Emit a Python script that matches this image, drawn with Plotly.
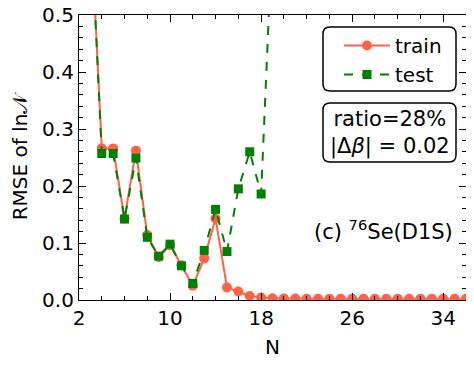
import plotly.graph_objects as go

N_train = list(range(3, 37))
train = [0.68, 0.266, 0.266, 0.143, 0.262, 0.114, 0.075, 0.096, 0.061, 0.025,
         0.073, 0.143, 0.022, 0.015, 0.007, 0.0045, 0.003, 0.0025, 0.0025, 0.002,
         0.002, 0.002, 0.002, 0.002, 0.002, 0.002, 0.002, 0.002, 0.002, 0.002,
         0.002, 0.002, 0.002, 0.002]
N_test = list(range(3, 20))
test = [0.68, 0.257, 0.257, 0.142, 0.249, 0.110, 0.077, 0.098, 0.060, 0.029,
        0.087, 0.159, 0.085, 0.195, 0.260, 0.186, 0.65]

x_ticks = [2, 10, 18, 26, 34]
y_ticks = [0.0, 0.1, 0.2, 0.3, 0.4, 0.5]

RED = "#FF6347"
GREEN = "#008000"
FONT = "DejaVu Sans"

fig = go.Figure()
fig.add_trace(go.Scatter(x=N_train, y=train, name="train", mode="lines+markers",
                         line=dict(color=RED, width=2),
                         marker=dict(symbol="circle", size=10, color=RED)))
fig.add_trace(go.Scatter(x=N_test, y=test, name="test", mode="lines+markers",
                         line=dict(color=GREEN, width=2, dash="dash"),
                         marker=dict(symbol="square", size=9, color=GREEN)))

axis_common = dict(showline=True, linecolor="black", linewidth=1.2, mirror="ticks",
                   ticks="inside", ticklen=7, tickwidth=1.2, tickcolor="black",
                   showgrid=False, zeroline=False, automargin=False,
                   ticklabeloverflow="allow",
                   tickfont=dict(family=FONT, size=20, color="black"))

fig.update_xaxes(range=[2, 36], tickvals=x_ticks, ticktext=[str(v) for v in x_ticks],
                 minor=dict(dtick=2, tick0=0, ticks="inside", ticklen=4, tickwidth=1, tickcolor="black"),
                 title=dict(text="N", font=dict(family=FONT, size=20, color="black"), standoff=10),
                 **axis_common)
fig.update_yaxes(range=[0, 0.5], tickvals=y_ticks, ticktext=[f"{v:.1f}" for v in y_ticks],
                 minor=dict(dtick=0.02, tick0=0, ticks="inside", ticklen=4, tickwidth=1, tickcolor="black"),
                 title=dict(text="RMSE of ln𝒩", font=dict(family=FONT, size=20, color="black"), standoff=14),
                 **axis_common)

def rounded_rect(x0, y0, x1, y1, rx, ry):
    return (f"M {x0+rx},{y0} L {x1-rx},{y0} Q {x1},{y0} {x1},{y0+ry} "
            f"L {x1},{y1-ry} Q {x1},{y1} {x1-rx},{y1} L {x0+rx},{y1} "
            f"Q {x0},{y1} {x0},{y1-ry} L {x0},{y0+ry} Q {x0},{y0} {x0+rx},{y0} Z")

# page has an 8px body margin: figure occupies window x 8..474, y 8..365
OFF = 8
W, H, L, T = 387.0, 285.0, 79.0, 15.0
def px(x, y):
    return (x - L) / W, 1 - (y - T) / H

lx0, ly0 = px(323, 91)
lx1, ly1 = px(456, 27)
bx0, by0 = px(323, 162)
bx1, by1 = px(456, 103)
rx, ry = 7 / W, 7 / H
fig.add_shape(type="path", xref="paper", yref="paper",
              path=rounded_rect(lx0, ly0, lx1, ly1, rx, ry),
              line=dict(color="black", width=1.5), fillcolor="rgba(255,255,255,0)", layer="above")
fig.add_shape(type="path", xref="paper", yref="paper",
              path=rounded_rect(bx0, by0, bx1, by1, rx, ry),
              line=dict(color="black", width=1.5), fillcolor="rgba(255,255,255,0)", layer="above")

fig.add_annotation(xref="paper", yref="paper", x=(bx0 + bx1) / 2, y=(by0 + by1) / 2,
                   xanchor="center", yanchor="middle",
                   text="ratio=28%<br>|Δ<i>β</i>| = 0.02", showarrow=False,
                   font=dict(family=FONT, size=21, color="black"), align="center")
ax, ay = px(455, 230)
fig.add_annotation(xref="paper", yref="paper", x=ax, y=ay,
                   xanchor="right", yanchor="middle",
                   text="(c) <sup>76</sup>Se(D1S)", showarrow=False,
                   font=dict(family=FONT, size=21, color="black"))

legx, legy = px(339, 26)
fig.update_layout(width=474 - OFF, height=365 - OFF,
                  margin=dict(l=79 - OFF, r=8, t=15 - OFF, b=65, autoexpand=False),
                  plot_bgcolor="white", paper_bgcolor="white",
                  font=dict(family=FONT, size=20, color="black"),
                  legend=dict(x=legx, y=legy, xanchor="left", yanchor="top",
                              bgcolor="rgba(0,0,0,0)", borderwidth=0,
                              font=dict(family=FONT, size=20, color="black"),
                              itemwidth=46, tracegroupgap=0),
                  showlegend=True)

fig.write_html("out.html")
